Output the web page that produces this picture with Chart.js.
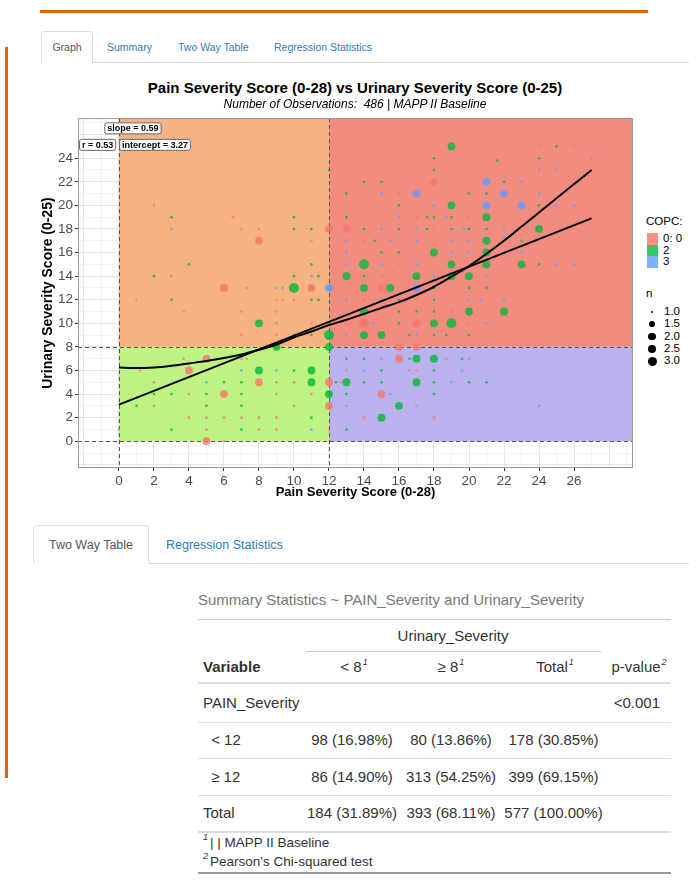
<!DOCTYPE html>
<html>
<head>
<meta charset="utf-8">
<script src="https://cdn.jsdelivr.net/npm/chart.js@4.4.1/dist/chart.umd.min.js"></script>
<style>
  html, body { margin: 0; padding: 0; background: #fff; }
  body { width: 700px; height: 881px; position: relative; overflow: hidden;
         font-family: "Liberation Sans", Arial, sans-serif; color: #333; }
  .abs { position: absolute; white-space: nowrap; line-height: 1.2; }
  .rule { position: absolute; background: #D06A16; }
  .line { position: absolute; background: #ddd; height: 1px; }
  sup { font-size: 9px; font-style: italic; vertical-align: 7px; line-height: 0; margin-left: 1px; }
  #chartBox { position: absolute; left: 0; top: 108px; width: 640px; height: 400px; }
  .key { position: absolute; width: 11px; height: 11.5px; }
  .dot { position: absolute; border-radius: 50%; background: #000; }
</style>
</head>
<body>
<div class="rule" style="left:40px; top:10px; width:608px; height:3px;"></div>
<div class="rule" style="left:5px; top:47px; width:3px; height:731px;"></div>

<!-- first tab row -->
<div class="line" style="left:41px; top:62px; width:648px;"></div>
<div style="position:absolute; left:41px; top:31px; width:52px; height:31px; background:#fff;
            border:1px solid #ddd; border-bottom:1px solid #fff; border-radius:4px 4px 0 0; box-sizing:border-box; height:32px;"></div>

<!-- second tab row -->
<div class="line" style="left:33px; top:563px; width:656px;"></div>
<div style="position:absolute; left:33px; top:525px; width:116px; height:39px; background:#fff;
            border:1px solid #ddd; border-bottom:1px solid #fff; border-radius:4px 4px 0 0; box-sizing:border-box;"></div>

<div id="chartBox"><canvas id="grafico" width="640" height="400"></canvas></div>
<div id="textos"></div>

<script>
// ---- chart values ----
const copcGrupos = ['0: 0', '2', '3']
const coresCopc = ['rgba(248,118,109,0.8)', 'rgba(0,186,56,0.8)', 'rgba(97,156,255,0.8)']

// [pain, urinary, n]
const pontosCopc0 = [
  [0,1,1],[1,12,1],[1.2,6,1],[2,3,1],[2,5,1],[2,20,1],[3,14,1],[3.7,7,1],[3.7,11,1],[4,2,1],
  [4,4,1],[4,6,2],[5,0,2],[5,1,1],[5,2,1],[5,7,2],[6,0,1],[6,2,1],[6,4,2],[6,13,2],
  [6.5,19,1],[7,2,1],[7,7,1],[7,9,1],[7,11,1],[7,18,1],[7.3,7,1],[7.3,13,1],[8,1,1],[8,2,1],
  [8,5,2],[8,17,2],[8,18,1],[9,1,1],[9,2,1],[9,4,1],[9,5,1],[9,9,1],[9,11,1],[9,12,1],
  [9.35,12,1],[10,3,1],[10,5,1],[10,12,1],[11,4,1],[11,10,1],[11,13,2],[11,17,1],[12,1,1],[12,3,2],
  [12,5,2],[12,18,2],[12.7,5,1],[13,3,1],[13,6,1],[13,18,2],[14,2,1],[14,10,3],[14,12,1],[14,17,1],
  [15,4,2],[15,13,2],[15,14,1],[16,7,2],[16,8,2],[16,15,1],[16,21,1],[16.6,6,1],[17,3,1],[17,6,1],
  [17,8,2],[17,10,2],[17,12,1],[17,19,1],[18,2,1],[18,18,1],[18,22,2],[18.7,7,1],[19,11,1],[20,7,1],
  [20,10,1],[20,19,1],[22,9,1],[24,25,1],[26,25,1]
]
const pontosCopc2 = [
  [1,3,1],[2,4,1],[2,14,1],[3,1,1],[3,4,1],[3,12,1],[3,19,1],[4,15,1],[5,3,1],[5,4,1],
  [6,5,1],[7,1,1],[7,3,1],[7,4,1],[7,5,1],[8,6,2],[8,10,2],[9,8,2],[10,6,1],[10,9,1],
  [10,13,3],[10,14,1],[10,18,1],[10,19,1],[11,2,1],[11,5,2],[11,6,2],[11,9,1],[11,12,1],[11,13,1],
  [11,15,1],[11,18,1],[11.4,12,1],[11.4,14,1],[12,4,2],[12,8,2],[12,9,3],[12,23,1],[12.4,5,1],[13,1,1],
  [13,4,1],[13,5,2],[13,7,1],[13,14,2],[13,19,1],[13,21,1],[14,5,1],[14,7,1],[14,9,2],[14,10,1],
  [14,11,2],[14,13,2],[14,14,1],[14,15,3],[14,18,1],[14,22,1],[14.6,17,1],[15,2,2],[15,5,1],[15,6,1],
  [15,9,2],[15,16,1],[15,22,1],[15.5,13,2],[16,3,2],[16,10,1],[16,11,1],[16,12,1],[16,16,1],[16,18,1],
  [16,20,1],[16.6,7,1],[16.6,9,1],[17,5,2],[17,7,2],[17,11,1],[17,14,2],[17.6,18,1],[17.6,19,1],[18,4,1],
  [18,5,1],[18,6,1],[18,7,2],[18,9,1],[18,10,2],[18,11,1],[18,12,1],[18,13,1],[18,16,2],[18,19,1],
  [18,23,1],[18,24,1],[18.7,9,1],[19,10,3],[19,14,2],[19,15,2],[19,18,1],[19,19,1],[19,20,2],[19,25,2],
  [19.6,7,1],[20,5,1],[20,9,1],[20,11,2],[20,13,1],[20,14,2],[20,18,1],[20,21,1],[21,5,1],[21,13,1],
  [21,15,2],[21,16,2],[21,17,2],[21,18,1],[21,19,2],[21,21,1],[21.6,23.8,1],[22,11,2],[22,22,1],[23,15,2],
  [23,17,1],[24,15,1],[24,18,2],[24,20,1],[24,24,1],[25,25,1]
]
const pontosCopc3 = [
  [3,18,1],[5,5,1],[7,6,1],[9,6,1],[9,10,1],[9,13,1],[9.35,13,1],[11,1,1],[11,14,1],[12,13,2],
  [13,9,1],[13,12,1],[13,15,1],[13,16,1],[13,17,1],[14,6,1],[14.5,10,1],[15,7,1],[15,12,1],[15,15,1],
  [15,18,1],[15,21,1],[15.5,4,1],[15.5,17,1],[16,19,1],[17,9,1],[17,13,2],[17,15,1],[17,17,1],[17,18,1],
  [17,21,2],[18,14,1],[18,20,1],[18.7,19,1],[19,5,1],[19,16,1],[19,17,1],[19.6,6,1],[19.7,18,1],[20,12,1],
  [20,16,1],[20,17,1],[20.7,12,1],[21,10,1],[21,14,1],[21,20,2],[21,22,2],[22,12,1],[22,17.3,1],[22,18,1],
  [22,21,2],[23,16,1],[23,20,2],[23,22,1],[23.8,17,1],[24,3,1],[24,21,1],[24,23,1],[25,15,1],[25,20,1],
  [25,23,1],[26,15,1],[26,20,1],[27,24,1]
]

const retaX = [0, 27]
const retaY = [3.1, 18.9]
const loessX = [0,1,2,3,4,5,6,7,8,9,10,11,12,13,14,15,16,17,18,19,20,21,22,23,24,25,26,27]
const loessY = [6.25,6.2,6.25,6.4,6.6,6.8,7.05,7.35,7.75,8.2,8.8,9.3,9.85,10.3,10.8,11.3,11.8,12.4,13.1,13.95,14.85,15.9,17.0,18.2,19.4,20.6,21.8,23.0]

const corteDor = 12
const corteUrinario = 8
const tamanhosN = [1.0, 1.5, 2.0, 2.5, 3.0]
const rotulosEstat = [
  { texto: 'slope = 0.59', x: 0.8, y: 26.53 },
  { texto: 'r = 0.53', x: -1.22, y: 25.13 },
  { texto: 'intercept = 3.27', x: 2.06, y: 25.13 }
]

// ---- helpers ----
const fonte = '"Liberation Sans", Arial, sans-serif'

function raio(n) {
  return 1.3 + 3.7 * Math.sqrt((n - 1) / 2)
}

function paraPontos(lista) {
  return lista.map(p => ({ x: p[0], y: p[1], n: p[2] }))
}

function par(xs, ys) {
  return xs.map((x, i) => ({ x: x, y: ys[i] }))
}

const quadrantes = [
  { x0: 0, x1: corteDor, y0: corteUrinario, y1: 'max', cor: '#F6B381' },
  { x0: corteDor, x1: 'max', y0: corteUrinario, y1: 'max', cor: '#F28C80' },
  { x0: 0, x1: corteDor, y0: 0, y1: corteUrinario, cor: '#BEF283' },
  { x0: corteDor, x1: 'max', y0: 0, y1: corteUrinario, cor: '#BAB2EC' }
]

const pluginQuadrantes = {
  id: 'quadrantes',
  beforeDatasetsDraw(chart) {
    const { ctx, chartArea: a, scales: { x, y } } = chart
    ctx.save()
    ctx.beginPath()
    ctx.rect(a.left, a.top, a.width, a.height)
    ctx.clip()
    quadrantes.forEach(q => {
      const px0 = x.getPixelForValue(q.x0)
      const px1 = x.getPixelForValue(q.x1 === 'max' ? x.max : q.x1)
      const py0 = y.getPixelForValue(q.y0)
      const py1 = y.getPixelForValue(q.y1 === 'max' ? y.max : q.y1)
      ctx.fillStyle = q.cor
      ctx.fillRect(px0, py1, px1 - px0, py0 - py1)
    })
    ctx.setLineDash([4, 3])
    ctx.strokeStyle = '#555'
    ctx.lineWidth = 1
    ;[0, corteDor].forEach(v => {
      const px = Math.round(x.getPixelForValue(v)) + 0.5
      ctx.beginPath(); ctx.moveTo(px, a.top); ctx.lineTo(px, a.bottom); ctx.stroke()
    })
    ;[0, corteUrinario].forEach(v => {
      const py = Math.round(y.getPixelForValue(v)) + 0.5
      ctx.beginPath(); ctx.moveTo(a.left, py); ctx.lineTo(a.right, py); ctx.stroke()
    })
    ctx.restore()
  },
  afterDatasetsDraw(chart) {
    const { ctx, chartArea: a, scales: { x, y } } = chart
    ctx.save()
    ctx.strokeStyle = '#9a9a9a'
    ctx.lineWidth = 1
    ctx.strokeRect(a.left + 0.5, a.top + 0.5, a.width - 1, a.height - 1)
    ctx.font = 'bold 9px ' + fonte
    ctx.textAlign = 'center'
    ctx.textBaseline = 'middle'
    rotulosEstat.forEach(r => {
      const cx = x.getPixelForValue(r.x)
      const cy = y.getPixelForValue(r.y)
      const w = ctx.measureText(r.texto).width + 5
      const h = 11
      ctx.beginPath()
      ctx.roundRect(cx - w / 2, cy - h / 2, w, h, 2)
      ctx.fillStyle = '#fff'
      ctx.fill()
      ctx.strokeStyle = '#666'
      ctx.stroke()
      ctx.fillStyle = '#000'
      ctx.fillText(r.texto, cx, cy + 0.5)
    })
    ctx.restore()
  }
}

function eixo(min, max, ultimo, titulo, tamanhoTitulo, vertical) {
  const marcado = v => v % 2 === 0 && v >= 0 && v <= ultimo
  return {
    type: 'linear', min: min, max: max,
    afterFit: s => { if (vertical) s.width = 78; else s.height = 40 },
    border: { display: false },
    grid: {
      color: c => (c.tick && c.tick.value % 2 === 0) ? '#E6E6E6' : '#F3F3F3',
      tickLength: 3,
      tickColor: c => (c.tick && marcado(c.tick.value)) ? '#333' : 'rgba(0,0,0,0)'
    },
    ticks: {
      stepSize: 1, includeBounds: false, autoSkip: false, maxTicksLimit: 200,
      maxRotation: 0, minRotation: 0, padding: 2, color: '#4D4D4D',
      font: { size: 13.5, family: fonte },
      callback: v => marcado(v) ? String(v) : ''
    },
    title: {
      display: true, text: titulo, color: '#000',
      font: { size: tamanhoTitulo, weight: 'bold', family: fonte },
      padding: vertical ? { top: 40, bottom: 0 } : { top: 0, bottom: 8 }
    }
  }
}

const dadosPontos = [pontosCopc0, pontosCopc2, pontosCopc3]

const grafico = new Chart(document.querySelector('#grafico'), {
  type: 'scatter',
  data: {
    datasets: [
      {
        type: 'line', label: 'loess', data: par(loessX, loessY), order: 0,
        borderColor: '#000', borderWidth: 2, pointRadius: 0, cubicInterpolationMode: 'monotone', fill: false
      },
      {
        type: 'line', label: 'lm', data: par(retaX, retaY), order: 0,
        borderColor: '#000', borderWidth: 2, pointRadius: 0, fill: false
      }
    ].concat(dadosPontos.map((lista, i) => ({
      label: copcGrupos[i],
      data: paraPontos(lista),
      order: 1,
      backgroundColor: coresCopc[i],
      borderWidth: 0,
      pointRadius: c => raio(c.raw.n),
      pointHoverRadius: c => raio(c.raw.n)
    })))
  },
  options: {
    responsive: false,
    devicePixelRatio: 1,
    animation: false,
    events: [],
    layout: { padding: { left: 0, right: 7, top: 7, bottom: 0 } },
    plugins: { legend: { display: false }, tooltip: { enabled: false }, title: { display: false } },
    scales: {
      x: eixo(-2.34, 29.37, 26, 'Pain Severity Score (0-28)', 13, false),
      y: eixo(-2.27, 27.4, 24, 'Urinary Severity Score (0-25)', 14, true)
    }
  },
  plugins: [pluginQuadrantes]
})

// ---- page text ----
const caixa = document.querySelector('#textos')
function texto(html, x, y, op) {
  op = op || {}
  const el = document.createElement('div')
  el.className = 'abs'
  el.innerHTML = html
  el.style.left = x + 'px'
  el.style.top = y + 'px'
  el.style.fontSize = (op.size || 15) + 'px'
  if (op.bold) el.style.fontWeight = 'bold'
  if (op.italic) el.style.fontStyle = 'italic'
  el.style.color = op.cor || '#333'
  const dx = op.align === 'center' ? '-50%' : op.align === 'right' ? '-100%' : '0'
  el.style.transform = 'translate(' + dx + ',-50%)'
  caixa.appendChild(el)
}

// tabs
texto('Graph', 67, 46.5, { size: 10.5, align: 'center', cor: '#555' })
texto('Summary', 107, 46.5, { size: 10.5, cor: '#337AB7' })
texto('Two Way Table', 178, 46.5, { size: 10.5, cor: '#337AB7' })
texto('Regression Statistics', 274, 46.5, { size: 10.5, cor: '#337AB7' })

// chart titles
texto('Pain Severity Score (0-28) vs Urinary Severity Score (0-25)', 355, 88, { size: 15, bold: true, align: 'center', cor: '#000' })
texto('Number of Observations:&nbsp; 486 | MAPP II Baseline', 355, 104, { size: 12, italic: true, align: 'center', cor: '#000' })

// legend
texto('COPC:', 646, 222, { size: 11.5, cor: '#000' })
copcGrupos.forEach((g, i) => {
  const k = document.createElement('div')
  k.className = 'key'
  k.style.left = '647px'
  k.style.top = (233 + i * 11.5) + 'px'
  k.style.background = coresCopc[i]
  caixa.appendChild(k)
  texto(g, 663, 239 + i * 11.5, { size: 11.5, cor: '#000' })
})
texto('n', 646, 294, { size: 11.5, cor: '#000' })
tamanhosN.forEach((n, i) => {
  const r = raio(n) * 0.9
  const cy = 312 + i * 12.3
  const d = document.createElement('div')
  d.className = 'dot'
  d.style.left = (652 - r) + 'px'
  d.style.top = (cy - r) + 'px'
  d.style.width = d.style.height = (2 * r) + 'px'
  caixa.appendChild(d)
  texto(n.toFixed(1), 664, cy, { size: 11.5, cor: '#000' })
})

// second tab row
texto('Two Way Table', 91, 545, { size: 12.5, align: 'center', cor: '#555' })
texto('Regression Statistics', 166, 545, { size: 12.5, cor: '#337AB7' })

// table
texto('Summary Statistics ~ PAIN_Severity and Urinary_Severity', 198, 600, { size: 15, cor: '#777' })
function regra(y, x0, x1, h, cor) {
  const l = document.createElement('div')
  l.className = 'line'
  l.style.left = x0 + 'px'; l.style.top = y + 'px'
  l.style.width = (x1 - x0) + 'px'; l.style.height = h + 'px'
  l.style.background = cor
  caixa.appendChild(l)
}
regra(619, 198, 671, 1, '#ccc')
texto('Urinary_Severity', 453, 636, { align: 'center' })
regra(651, 306, 601, 1, '#ccc')
texto('Variable', 203, 667, { bold: true })
texto('&lt; 8<sup>1</sup>', 354, 667, { align: 'center' })
texto('≥ 8<sup>1</sup>', 451, 667, { align: 'center' })
texto('Total<sup>1</sup>', 555, 667, { align: 'center' })
texto('p-value<sup>2</sup>', 639, 667, { align: 'center' })
regra(682, 198, 671, 2, '#ddd')
texto('PAIN_Severity', 203, 703)
texto('&lt;0.001', 660, 703, { align: 'right' })
regra(722, 198, 671, 1, '#ddd')
const colunas = [352, 451, 553.5]
const linhasTabela = [
  ['&nbsp;&lt; 12', 740, ['98 (16.98%)', '80 (13.86%)', '178 (30.85%)']],
  ['&nbsp;≥ 12', 777, ['86 (14.90%)', '313 (54.25%)', '399 (69.15%)']],
  ['Total', 813, ['184 (31.89%)', '393 (68.11%)', '577 (100.00%)']]
]
linhasTabela.forEach(l => {
  texto(l[0], l[0] === 'Total' ? 203 : 207, l[1])
  l[2].forEach((v, i) => texto(v, colunas[i], l[1], { align: 'center' }))
})
regra(758, 198, 671, 1, '#ddd')
regra(795, 198, 671, 1, '#ddd')
regra(831, 198, 671, 2, '#ddd')
texto('<sup style="margin-left:0;margin-right:2px">1</sup>| | MAPP II Baseline', 203, 843, { size: 13.5 })
texto('<sup style="margin-left:0;margin-right:2px">2</sup>Pearson\'s Chi-squared test', 203, 862, { size: 13.5 })
regra(872, 198, 671, 2, '#999')
</script>
</body>
</html>
